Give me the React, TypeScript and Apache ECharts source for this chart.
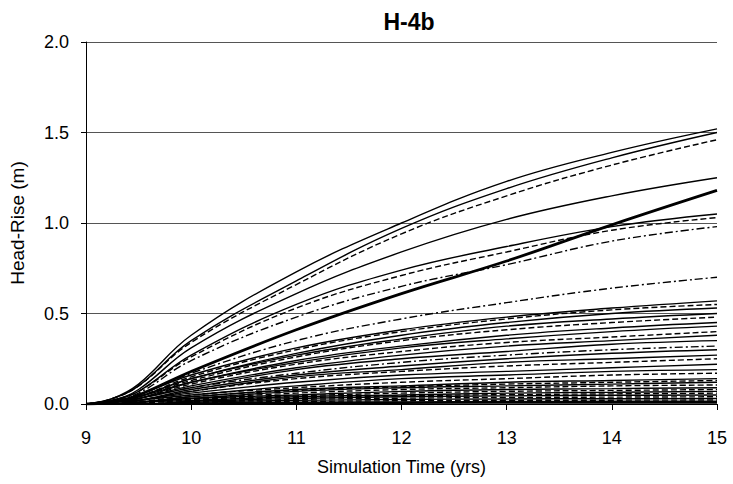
import React, { useEffect, useRef } from "react";
import * as echarts from "echarts";

const years = [9, 9.25, 9.5, 10, 11, 12, 13, 14, 15];

const upper1 = [0, 0.03, 0.11, 0.38, 0.73, 1.0, 1.23, 1.39, 1.52];
const upper2 = [0, 0.03, 0.1, 0.35, 0.68, 0.97, 1.19, 1.36, 1.5];
const upper3 = [0, 0.03, 0.1, 0.34, 0.66, 0.94, 1.15, 1.32, 1.46];
const upper4 = [0, 0.02, 0.08, 0.31, 0.61, 0.84, 1.02, 1.15, 1.25];
const thickRun = [0, 0.01, 0.05, 0.18, 0.41, 0.61, 0.79, 0.99, 1.18];
const mid1 = [0, 0.02, 0.07, 0.27, 0.55, 0.74, 0.87, 0.98, 1.05];
const mid2 = [0, 0.02, 0.07, 0.26, 0.53, 0.71, 0.84, 0.96, 1.03];
const mid3 = [0, 0.02, 0.06, 0.24, 0.48, 0.65, 0.77, 0.9, 0.98];
const mid4 = [0, 0.01, 0.05, 0.17, 0.35, 0.47, 0.56, 0.64, 0.7];
const low1 = [0, 0.01, 0.05, 0.16, 0.31, 0.41, 0.48, 0.53, 0.57];
const low2 = [0, 0.01, 0.04, 0.15, 0.3, 0.4, 0.47, 0.52, 0.55];
const low3 = [0, 0.01, 0.04, 0.14, 0.28, 0.38, 0.45, 0.5, 0.53];
const low4 = [0, 0.01, 0.04, 0.14, 0.27, 0.36, 0.43, 0.47, 0.5];
const low5 = [0, 0.01, 0.04, 0.13, 0.26, 0.35, 0.41, 0.45, 0.48];
const low6 = [0, 0.01, 0.04, 0.12, 0.24, 0.32, 0.38, 0.42, 0.45];
const low7 = [0, 0.01, 0.03, 0.12, 0.23, 0.31, 0.36, 0.4, 0.43];
const low8 = [0, 0.01, 0.03, 0.11, 0.22, 0.29, 0.34, 0.37, 0.4];
const low9 = [0, 0.01, 0.03, 0.1, 0.2, 0.27, 0.32, 0.35, 0.38];
const low10 = [0, 0.01, 0.03, 0.09, 0.19, 0.25, 0.29, 0.33, 0.35];
const low11 = [0, 0.01, 0.03, 0.09, 0.17, 0.23, 0.27, 0.3, 0.32];
const low12 = [0, 0.01, 0.02, 0.08, 0.16, 0.21, 0.25, 0.28, 0.3];
const low13 = [0, 0.01, 0.02, 0.07, 0.15, 0.19, 0.23, 0.25, 0.27];
const low14 = [0, 0.0, 0.02, 0.07, 0.14, 0.18, 0.21, 0.23, 0.25];
const low15 = [0, 0.0, 0.02, 0.06, 0.12, 0.16, 0.18, 0.2, 0.22];
const low16 = [0, 0.0, 0.02, 0.05, 0.1, 0.14, 0.16, 0.18, 0.19];
const low17 = [0, 0.0, 0.01, 0.05, 0.09, 0.12, 0.14, 0.16, 0.17];
const low18 = [0, 0.0, 0.01, 0.04, 0.08, 0.1, 0.12, 0.13, 0.14];
const low19 = [0, 0.0, 0.01, 0.04, 0.075, 0.095, 0.11, 0.12, 0.13];
const low20 = [0, 0.0, 0.01, 0.03, 0.07, 0.09, 0.1, 0.11, 0.12];
const low21 = [0, 0.0, 0.01, 0.03, 0.06, 0.08, 0.09, 0.1, 0.105];
const low22 = [0, 0.0, 0.01, 0.03, 0.05, 0.07, 0.08, 0.085, 0.09];
const low23 = [0, 0.0, 0.01, 0.025, 0.045, 0.06, 0.07, 0.075, 0.08];
const low24 = [0, 0.0, 0.01, 0.02, 0.04, 0.05, 0.06, 0.065, 0.07];
const low25 = [0, 0.0, 0.005, 0.02, 0.035, 0.045, 0.052, 0.056, 0.06];
const low26 = [0, 0.0, 0.0, 0.015, 0.03, 0.04, 0.045, 0.048, 0.05];
const low27 = [0, 0.0, 0.0, 0.012, 0.025, 0.032, 0.036, 0.038, 0.04];
const low28 = [0, 0.0, 0.0, 0.01, 0.02, 0.025, 0.028, 0.029, 0.03];
const low29 = [0, 0.0, 0.0, 0.007, 0.014, 0.018, 0.02, 0.021, 0.022];
const low30 = [0, 0, 0, 0.005, 0.01, 0.012, 0.014, 0.015, 0.015];
const low31 = [0, 0, 0, 0.003, 0.006, 0.008, 0.009, 0.01, 0.01];
const low32 = [0, 0, 0, 0.002, 0.003, 0.004, 0.005, 0.005, 0.005];

const runs = [
  upper1, upper2, upper3, upper4, thickRun, mid1, mid2, mid3, mid4,
  low1, low2, low3, low4, low5, low6, low7, low8, low9, low10, low11, low12,
  low13, low14, low15, low16, low17, low18, low19, low20, low21, low22, low23,
  low24, low25, low26, low27, low28, low29, low30, low31, low32,
];

// style key for each run (s = solid, d = dashed, dd = dash-dot, t = thick)
const runStyles = [
  "s", "s", "d", "s", "t", "s", "d", "dd", "dd",
  "s", "d", "s", "s", "d", "s", "s", "d", "s", "s", "dd", "s",
  "s", "d", "s", "s", "d", "s", "d", "s", "d", "s", "d",
  "s", "d", "s", "d", "s", "d", "s", "s", "s",
];

const yTicks = [0, 0.5, 1.0, 1.5, 2.0];

export default function App() {
  const ref = useRef<HTMLDivElement>(null);
  useEffect(() => {
    if (!ref.current) return;
    const chart = echarts.init(ref.current, undefined, { renderer: "svg" });
    const font = "'Liberation Sans', Arial, sans-serif";
    const series = runs.map((vals, i) => {
      const st = runStyles[i];
      let type: any = "solid";
      let width = 1.4;
      if (st === "d") type = [6, 3];
      if (st === "dd") type = [8, 3, 2, 3];
      if (st === "t") width = 2.8;
      return {
        type: "line",
        name: "run" + (i + 1),
        data: years.map((x, j) => [x, vals[j]]),
        smooth: 0.4,
        showSymbol: false,
        symbol: "none",
        lineStyle: { color: "#000", width, type },
        z: 3,
      };
    });
    chart.setOption({
      animation: false,
      backgroundColor: "#fff",
      title: {
        text: "H-4b",
        left: 404,
        textAlign: "center",
        top: 5,
        textStyle: { fontFamily: font, fontWeight: "bold", fontSize: 23, color: "#000" },
      },
      grid: { left: 81, right: 16, top: 42, bottom: 80 },
      xAxis: {
        type: "value",
        min: 9,
        max: 15,
        interval: 1,
        name: "Simulation Time (yrs)",
        nameLocation: "middle",
        nameGap: 54,
        nameTextStyle: { fontFamily: font, fontSize: 18, color: "#000" },
        axisLine: { show: true, lineStyle: { color: "#000", width: 1 } },
        axisTick: { show: true, length: 6, inside: false, lineStyle: { color: "#000" } },
        axisLabel: { fontFamily: font, fontSize: 18, color: "#000", margin: 25 },
        splitLine: { show: false },
      },
      yAxis: {
        type: "value",
        min: 0,
        max: 2,
        interval: 0.5,
        name: "Head-Rise (m)",
        nameLocation: "middle",
        nameGap: 59,
        nameTextStyle: { fontFamily: font, fontSize: 19, color: "#000" },
        axisLine: { show: true, lineStyle: { color: "#000", width: 1 } },
        axisTick: { show: true, length: 5, lineStyle: { color: "#000" } },
        axisLabel: {
          fontFamily: font,
          fontSize: 18,
          color: "#000",
          margin: 17,
          formatter: (v: number) => (yTicks.includes(v) ? v.toFixed(1) : ""),
        },
        splitLine: { show: true, lineStyle: { color: "#555", width: 1, type: "solid" } },
      },
      series,
    });
    return () => chart.dispose();
  }, []);
  return (
    <div
      ref={ref}
      style={{ position: "fixed", left: 0, top: 0, width: 733, height: 484, background: "#fff" }}
    />
  );
}
